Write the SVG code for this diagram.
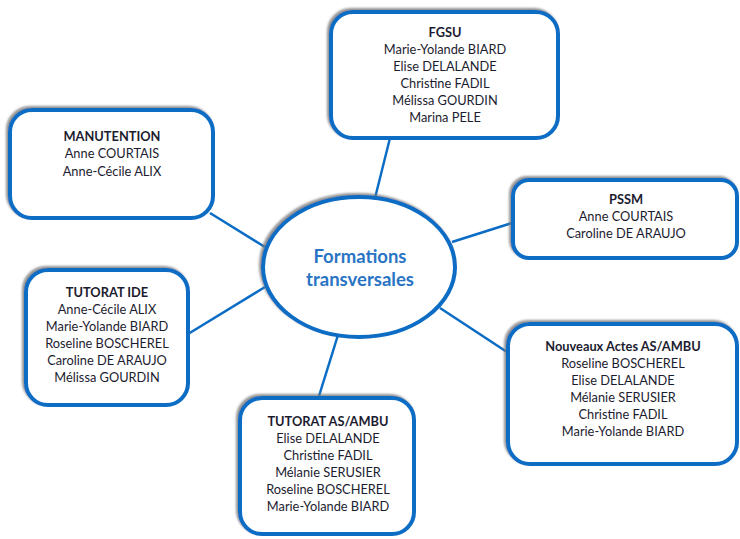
<svg xmlns="http://www.w3.org/2000/svg" width="740" height="539" viewBox="0 0 740 539">
<defs>
<filter id="sh" x="-10%" y="-10%" width="120%" height="120%">
<feDropShadow dx="-2" dy="-2" stdDeviation="1" flood-color="#777" flood-opacity="0.8"/>
</filter>
<style>
.box{fill:#fff;stroke:#0a6cc4;stroke-width:4;filter:url(#sh)}
.ln{stroke:#0a6cc4;stroke-width:2.5;fill:none}
text{font-family:Lato,"Liberation Sans",sans-serif;font-size:12.8px;fill:#1c1c30;text-anchor:middle}
.t{font-weight:bold}
.c{font-size:18.5px;font-weight:bold;fill:#2a74c4}
</style>
</defs>
<rect width="740" height="539" fill="#fff"/>
<g id="connectors">
<line class="ln" x1="210" y1="213" x2="265" y2="247"/>
<line class="ln" x1="188" y1="334" x2="265" y2="287"/>
<line class="ln" x1="390" y1="138" x2="375" y2="198"/>
<line class="ln" x1="512" y1="223" x2="452" y2="242"/>
<line class="ln" x1="440" y1="308" x2="507" y2="352"/>
<line class="ln" x1="338" y1="335" x2="319" y2="396"/>
</g>
<g id="center">
<ellipse class="box" cx="359" cy="267" rx="96" ry="70"/>
<text class="c" x="360" y="263">Formations</text>
<text class="c" x="360" y="286">transversales</text>
</g>
<g id="fgsu">
<rect class="box" x="331" y="12" width="227" height="126" rx="22"/>
<text class="t" x="445" y="37">FGSU</text>
<text x="445" y="54">Marie-Yolande BIARD</text>
<text x="445" y="71">Elise DELALANDE</text>
<text x="445" y="88">Christine FADIL</text>
<text x="445" y="105">Mélissa GOURDIN</text>
<text x="445" y="122">Marina PELE</text>
</g>
<g id="manutention">
<rect class="box" x="10" y="110" width="203" height="108" rx="22"/>
<text class="t" x="112" y="141">MANUTENTION</text>
<text x="112" y="158">Anne COURTAIS</text>
<text x="112" y="176">Anne-Cécile ALIX</text>
</g>
<g id="pssm">
<rect class="box" x="513" y="180" width="224" height="78" rx="16"/>
<text class="t" x="626" y="204">PSSM</text>
<text x="626" y="221">Anne COURTAIS</text>
<text x="626" y="238">Caroline DE ARAUJO</text>
</g>
<g id="tutorat-ide">
<rect class="box" x="26" y="270" width="162" height="135" rx="22"/>
<text class="t" x="107" y="297">TUTORAT IDE</text>
<text x="107" y="314">Anne-Cécile ALIX</text>
<text x="107" y="331">Marie-Yolande BIARD</text>
<text x="107" y="348">Roseline BOSCHEREL</text>
<text x="107" y="365">Caroline DE ARAUJO</text>
<text x="107" y="382">Mélissa GOURDIN</text>
</g>
<g id="nouveaux-actes">
<rect class="box" x="508" y="324" width="229" height="140" rx="22"/>
<text class="t" x="623" y="351">Nouveaux Actes AS/AMBU</text>
<text x="623" y="368">Roseline BOSCHEREL</text>
<text x="623" y="385">Elise DELALANDE</text>
<text x="623" y="402">Mélanie SERUSIER</text>
<text x="623" y="419">Christine FADIL</text>
<text x="623" y="436">Marie-Yolande BIARD</text>
</g>
<g id="tutorat-as">
<rect class="box" x="240" y="398" width="174" height="136" rx="22"/>
<text class="t" x="328" y="426">TUTORAT AS/AMBU</text>
<text x="328" y="443">Elise DELALANDE</text>
<text x="328" y="460">Christine FADIL</text>
<text x="328" y="477">Mélanie SERUSIER</text>
<text x="328" y="494">Roseline BOSCHEREL</text>
<text x="328" y="511">Marie-Yolande BIARD</text>
</g>
</svg>
